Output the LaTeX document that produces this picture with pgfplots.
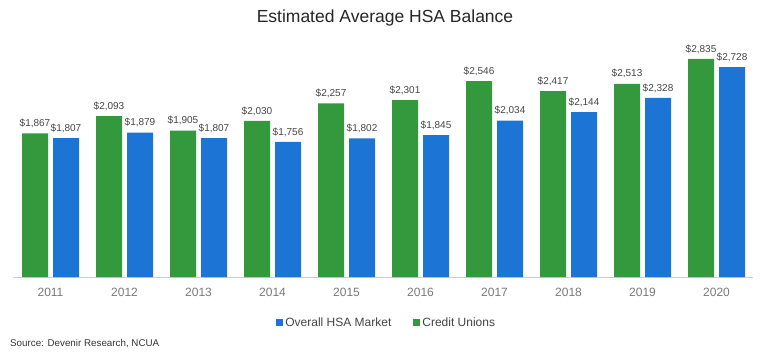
\documentclass[border=0pt]{standalone}
\usepackage{pgfplots}
\pgfplotsset{compat=1.18}
\usepackage{fontspec}
\setmainfont{Liberation Sans}
\definecolor{cugreen}{RGB}{52,153,60}
\definecolor{hsablue}{RGB}{28,116,212}
\definecolor{labgray}{RGB}{68,68,68}
\definecolor{tickgray}{RGB}{120,120,120}
\begin{document}
\begin{tikzpicture}
\path (0,0) rectangle (768pt,359pt);
\begin{axis}[
  at={(13pt,82pt)}, anchor=south west,
  scale only axis, width=740pt, height=247pt,
  xmin=-0.507, xmax=9.493, ymin=0, ymax=3212,
  axis x line=bottom, axis y line=none,
  x axis line style={draw=black!20, line width=0.8pt, -},
  xtick={0,...,9},
  xticklabels={2011,2012,2013,2014,2015,2016,2017,2018,2019,2020},
  major tick length=0pt,
  xticklabel style={font=\fontsize{12}{14}\selectfont, text=tickgray, yshift=-8pt},
  ybar, bar width=26pt,
  clip=false,
  nodes near coords={\$\pgfmathprintnumber[fixed,precision=0,1000 sep={,},assume math mode=true]{\pgfplotspointmeta}},
  every node near coord/.append style={font=\fontsize{10}{12}\selectfont, text=labgray, yshift=2pt},
  legend style={at={(0.505,-0.186)}, anchor=center, draw=none, legend columns=2,
    font=\fontsize{12}{14}\selectfont, text=labgray,
    /tikz/every even column/.append style={column sep=20pt}},
  legend image code/.code={\fill[#1] (0pt,-3.5pt) rectangle (7pt,3.5pt);},
]
\addplot[fill=hsablue, draw=none, bar shift=15.5pt] coordinates {
(0,1807) (1,1879) (2,1807) (3,1756) (4,1802) (5,1845) (6,2034) (7,2144) (8,2328) (9,2728)};
\addlegendentry{Overall HSA Market}
\addplot[fill=cugreen, draw=none, bar shift=-15.5pt] coordinates {
(0,1867) (1,2093) (2,1905) (3,2030) (4,2257) (5,2301) (6,2546) (7,2417) (8,2513) (9,2835)};
\addlegendentry{Credit Unions}
\end{axis}
\node[font=\fontsize{17.5}{20}\selectfont, text=black!85] at (385pt,341pt) {Estimated Average HSA Balance};
\node[anchor=west, font=\fontsize{9.8}{12}\selectfont, text=black!80, inner sep=0pt] at (10pt,15pt) {Source: Devenir Research, NCUA};
\end{tikzpicture}
\end{document}
